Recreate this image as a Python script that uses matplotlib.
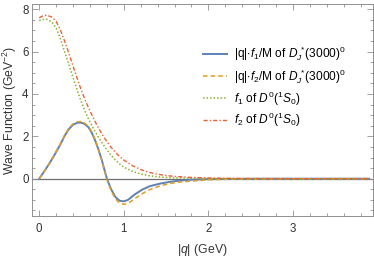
import numpy as np
import matplotlib.pyplot as plt
from matplotlib.ticker import MultipleLocator

plt.rcParams['font.family'] = ['Liberation Sans', 'DejaVu Sans']
plt.rcParams['mathtext.fontset'] = 'custom'
plt.rcParams['mathtext.rm'] = 'Liberation Sans'
plt.rcParams['mathtext.it'] = 'Liberation Sans:italic'

# |q| f1/M and |q| f2/M of D_J*(3000)^0
q_p = [0, 0.07, 0.13, 0.19, 0.25, 0.30, 0.35, 0.40, 0.45, 0.49, 0.53, 0.58, 0.62, 0.66, 0.70,
       0.74, 0.80, 0.85, 0.90, 0.95, 1.00, 1.05, 1.13, 1.22, 1.31, 1.42, 1.54, 1.66, 1.78,
       2.0, 2.3, 2.7, 3.2, 3.9]
f1_p = [0, 0.41, 0.78, 1.19, 1.62, 2.02, 2.34, 2.55, 2.64, 2.65, 2.60, 2.44, 2.18, 1.82, 1.38,
        0.87, 0.0, -0.50, -0.86, -1.04, -1.07, -1.00, -0.74, -0.51, -0.35, -0.24, -0.15, -0.09, -0.05,
        -0.02, -0.01, 0, 0, 0]
f2_p = [0, 0.41, 0.79, 1.20, 1.64, 2.05, 2.38, 2.59, 2.68, 2.70, 2.65, 2.48, 2.22, 1.85, 1.40,
        0.87, -0.05, -0.56, -0.95, -1.15, -1.21, -1.17, -0.94, -0.70, -0.51, -0.35, -0.23, -0.16, -0.12,
        -0.05, -0.02, -0.01, 0, 0]

# f1, f2 of D^0(1S0)
q_s = [0, 0.05, 0.09, 0.15, 0.20, 0.25, 0.30, 0.35, 0.40, 0.45, 0.50, 0.55, 0.60, 0.65, 0.70,
       0.75, 0.80, 0.85, 0.90, 0.95, 1.00, 1.10, 1.20, 1.30, 1.40, 1.50, 1.60, 1.80, 2.0,
       2.3, 2.7, 3.2, 3.9]
f1_s = [7.47, 7.52, 7.53, 7.40, 7.12, 6.62, 6.00, 5.40, 4.78, 4.17, 3.60, 3.10, 2.68, 2.30, 1.96,
        1.65, 1.36, 1.10, 0.88, 0.70, 0.55, 0.35, 0.22, 0.14, 0.09, 0.06, 0.04, 0.02, 0.01,
        0.005, 0, 0, 0]
f2_s = [7.60, 7.70, 7.72, 7.63, 7.43, 7.03, 6.50, 5.92, 5.32, 4.72, 4.15, 3.65, 3.20, 2.78, 2.40,
        2.05, 1.75, 1.48, 1.25, 1.05, 0.88, 0.62, 0.43, 0.30, 0.21, 0.15, 0.11, 0.06, 0.035,
        0.015, 0.005, 0, 0]

labels = [r"|q|$\cdot f_1$/M of $D_J^{\,*}(3000)^0$",
          r"|q|$\cdot f_2$/M of $D_J^{\,*}(3000)^0$",
          r"$f_1$ of $D^0(^1S_0)$",
          r"$f_2$ of $D^0(^1S_0)$"]

fig = plt.figure(figsize=(3.74, 2.59), dpi=100)
ax = fig.add_axes([0.0856, 0.1672, 0.911, 0.8174])

ax.axhline(0, color='#6e6e6e', lw=0.9, zorder=1)
ax.plot(q_p, f1_p, color='#5E81B5', lw=1.4, ls='-', label=labels[0])
ax.plot(q_p, f2_p, color='#E19C24', lw=1.1, ls=(0, (3, 2)), label=labels[1])
ax.plot(q_s, f1_s, color='#8FB032', lw=1.1, ls=(0, (1, 1.3)), label=labels[2])
ax.plot(q_s, f2_s, color='#EB6235', lw=1.0, ls=(0, (3, 1.5, 1, 1.5)), label=labels[3])

ax.set_xlim(-0.085, 3.942)
ax.set_ylim(-1.747, 8.25)
ax.xaxis.set_major_locator(MultipleLocator(1))
ax.xaxis.set_minor_locator(MultipleLocator(0.2))
ax.yaxis.set_major_locator(MultipleLocator(2))
ax.yaxis.set_minor_locator(MultipleLocator(0.5))
ax.tick_params(which='both', direction='in', top=True, right=True, color='#909090',
               labelcolor='#333333', labelsize=8.3, width=0.6)
ax.tick_params(which='major', length=4)
ax.tick_params(which='minor', length=2.2)
ax.tick_params(axis='x', pad=5)
ax.tick_params(axis='y', pad=2.5)
for s in ax.spines.values():
    s.set_color('#909090')
    s.set_linewidth(0.7)

ax.set_xlabel(r"|$q$| (GeV)", fontsize=8.8, color='#333333', labelpad=5.5)
ax.set_ylabel(r"Wave Function (GeV$^{-2}$)", fontsize=8.8, color='#333333', labelpad=2)

ax.legend(loc='upper left', bbox_to_anchor=(0.488, 0.83), frameon=False, fontsize=8.6,
          handlelength=2.0, handletextpad=0.55, labelspacing=0.3, borderaxespad=0)

fig.savefig('out.png', dpi=100)
